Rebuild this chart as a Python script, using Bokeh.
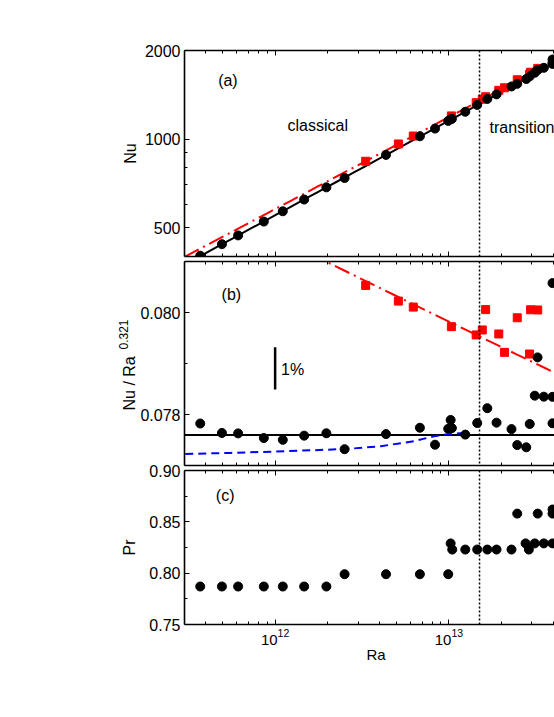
import numpy as np
from bokeh.plotting import figure
from bokeh.layouts import column
from bokeh.models import (Range1d, FixedTicker, LogAxis, Span, Label, Title,
                          CustomJSTickFormatter, NumeralTickFormatter)
from bokeh.embed import file_html
from bokeh.resources import INLINE

# ---------------- data ----------------
# black circles: Ra and Nu
ra_black = [3.707e11, 4.943e11, 6.124e11, 8.610e11, 1.107e12, 1.469e12, 1.972e12, 2.510e12,
            4.345e12, 6.808e12, 8.318e12, 9.908e12, 1.023e13, 1.040e13, 1.242e13, 1.455e13,
            1.663e13, 1.879e13, 2.291e13, 2.472e13, 2.786e13, 2.917e13, 3.119e13, 3.236e13,
            3.516e13, 3.945e13, 3.945e13, 3.945e13]
nu_black = [402.5, 440.4, 471.7, 525.6, 569.5, 624.3, 686.6, 738.9,
            884.6, 1023.4, 1086.7, 1154.1, 1168.6, 1172.4, 1239.1, 1307.5,
            1369.9, 1419.5, 1510.3, 1541.4, 1600.8, 1634.2, 1681.6, 1717.9,
            1747.1, 1812.8, 1800.8, 1864.4]
# red squares: Ra and Nu
ra_red = [3.319e12, 5.117e12, 6.237e12, 1.033e13, 1.435e13, 1.556e13, 1.626e13,
          1.936e13, 2.089e13, 2.472e13, 2.911e13, 2.951e13, 3.243e13]
nu_red = [841.8, 963.6, 1025.3, 1199.8, 1330.6, 1367.3, 1393.7,
          1465.2, 1494.6, 1591.1, 1661.9, 1687.5, 1739.3]
# panel (c): Prandtl number
ra_pr = [3.707e11, 4.943e11, 6.124e11, 8.610e11, 1.107e12, 1.469e12, 1.972e12,
         2.510e12, 4.345e12, 6.808e12, 9.908e12, 1.023e13, 1.045e13,
         1.242e13, 1.455e13, 1.663e13, 1.879e13, 2.291e13,
         2.472e13, 2.761e13, 2.884e13, 3.119e13, 3.243e13, 3.516e13,
         3.945e13, 3.945e13, 3.945e13]
pr = [0.787, 0.787, 0.787, 0.787, 0.787, 0.787, 0.787,
      0.799, 0.799, 0.799, 0.799, 0.829, 0.823,
      0.823, 0.823, 0.823, 0.823, 0.823,
      0.858, 0.829, 0.823, 0.829, 0.858, 0.829,
      0.829, 0.862, 0.858]
# blue dashed curve in panel (b)
ra_gl = [3.041e11, 5.559e11, 1.0e12, 1.675e12, 2.606e12, 4.046e12, 6.295e12,
         8.204e12, 1.023e13, 1.219e13]
comp_gl = [0.077227, 0.077247, 0.077274, 0.077300, 0.077325, 0.077378, 0.077476,
           0.077574, 0.077620, 0.077639]
# power-law fits Nu = A * Ra^b
fit_black = (0.0776, 0.321)
fit_red = (0.1045, 0.312)
comp_exp = 0.321
ra_transition = 1.5e13
scale_bar = (1e12, 0.07849, 0.07932)

x_ticks = [1e12, 1e13]
x_minor = [m * 10.0 ** e for e in (11, 12, 13) for m in range(2, 10)]

# ---------------- styling ----------------
FONT = "Liberation Sans"
X0, X1 = 3.01e11, 4.05e13
xr = Range1d(X0, X1)


def style_axis(ax, labels=True, size="16px"):
    ax.axis_line_width = 1.6
    ax.axis_line_color = "black"
    ax.major_tick_in = 5
    ax.major_tick_out = 0
    ax.minor_tick_in = 3
    ax.minor_tick_out = 0
    ax.major_tick_line_color = "black"
    ax.minor_tick_line_color = "black"
    ax.major_tick_line_width = 1
    ax.minor_tick_line_width = 1
    ax.major_label_text_font = FONT
    ax.major_label_text_font_size = size
    ax.major_label_text_color = "black"
    ax.major_label_standoff = 4
    ax.axis_label_text_font = FONT
    ax.axis_label_text_font_size = "16px"
    ax.axis_label_text_font_style = "normal"
    ax.axis_label_text_color = "black"
    if not labels:
        ax.formatter = CustomJSTickFormatter(code="return ''")
        ax.major_label_text_font_size = "0px"
        ax.major_label_standoff = 0


def make_panel(y_type, y_range, frame_h, top, bottom, y_ticks, y_minor, y_fmt, x_labels):
    p = figure(x_axis_type="log", y_axis_type=y_type, x_range=xr, y_range=y_range,
               frame_width=370, frame_height=frame_h,
               min_border_left=184, min_border_right=0,
               min_border_top=top, min_border_bottom=bottom,
               output_backend="svg", toolbar_location=None)
    p.outline_line_color = None
    p.xgrid.visible = False
    p.ygrid.visible = False
    p.border_fill_color = None
    p.background_fill_color = None
    xa = p.below[0]
    xa.ticker = FixedTicker(ticks=x_ticks, minor_ticks=x_minor)
    style_axis(xa, labels=x_labels, size="15px")
    top_ax = LogAxis(ticker=FixedTicker(ticks=x_ticks, minor_ticks=x_minor))
    style_axis(top_ax, labels=False)
    p.add_layout(top_ax, "above")
    ya = p.left[0]
    ya.ticker = FixedTicker(ticks=y_ticks, minor_ticks=y_minor)
    ya.formatter = y_fmt
    style_axis(ya)
    p.add_layout(Span(location=ra_transition, dimension="height", line_color="black",
                      line_width=1.5, line_dash="2 2"))
    return p


def text(p, x, y, s, size="16px", **kw):
    p.add_layout(Label(x=x, y=y, text=s, text_font=FONT, text_font_size=size,
                       text_color="black", text_align=kw.pop("align", "left"),
                       text_baseline=kw.pop("baseline", "middle"), **kw))


ra_black_a = np.array(ra_black)
nu_black_a = np.array(nu_black)
ra_red_a = np.array(ra_red)
nu_red_a = np.array(nu_red)
xs_fit = np.geomspace(X0, X1, 40)
red_fit = fit_red[0] * xs_fit ** fit_red[1]
black_fit = fit_black[0] * xs_fit ** fit_black[1]

# ---------------- panel (a) ----------------
pa = make_panel("log", Range1d(400, 2000), 206, 50, 2, [500, 1000, 2000],
                [600, 700, 800, 900], NumeralTickFormatter(format="0"), False)
pa.line(xs_fit, red_fit, line_color="red", line_width=2, line_dash="16 5 2 5")
pa.line(xs_fit, black_fit, line_color="black", line_width=2)
pa.scatter(ra_red, nu_red, marker="square", size=8, color="red")
pa.scatter(ra_black, nu_black, marker="circle", size=9, color="black")
text(pa, 4.70e11, 1582, "(a)")
text(pa, 1.178e12, 1113, "classical")
text(pa, 1.714e13, 1093, "transition")
pa.left[0].axis_label = "Nu"
pa.left[0].axis_label_standoff = 3

# ---------------- panel (b) ----------------
pb = make_panel("linear", Range1d(0.077, 0.081), 204, 3, 3, [0.078, 0.080],
                [0.077, 0.079, 0.081], NumeralTickFormatter(format="0.000"), False)
pb.line(xs_fit, red_fit / xs_fit ** comp_exp, line_color="red", line_width=2,
        line_dash="16 5 2 5")
pb.line(xs_fit, black_fit / xs_fit ** comp_exp, line_color="black", line_width=2)
pb.line(ra_gl, comp_gl, line_color="blue", line_width=2, line_dash="8 5")
pb.scatter(ra_red, nu_red_a / ra_red_a ** comp_exp, marker="square", size=8, color="red")
pb.scatter(ra_black, nu_black_a / ra_black_a ** comp_exp, marker="circle", size=9,
           color="black")
pb.segment(x0=[scale_bar[0]], y0=[scale_bar[1]], x1=[scale_bar[0]], y1=[scale_bar[2]],
           line_color="black", line_width=2.5)
text(pb, 4.92e11, 0.080353, "(b)")
text(pb, scale_bar[0], 0.078882, "1%", x_offset=6)
pb.add_layout(Title(text="Nu / Ra", align="left", offset=55, standoff=0,
                    text_font=FONT, text_font_size="16px", text_font_style="normal",
                    text_color="black"), "left")
pb.add_layout(Title(text="0.321", align="left", offset=116, standoff=-19,
                    text_font=FONT, text_font_size="12px", text_font_style="normal",
                    text_color="black"), "left")

# ---------------- panel (c) ----------------
pc = make_panel("linear", Range1d(0.75, 0.90), 154, 10, 45, [0.75, 0.80, 0.85, 0.90],
                [0.775, 0.825, 0.875], NumeralTickFormatter(format="0.00"), True)
pc.scatter(ra_pr, pr, marker="circle", size=9, color="black")
text(pc, 4.56e11, 0.8757, "(c)")
pc.left[0].axis_label = "Pr"
pc.left[0].axis_label_standoff = 8
xb = pc.below[0]
xb.major_label_standoff = 4
pc.add_layout(Title(text="Ra", align="left", offset=182, standoff=-7,
                    text_font=FONT, text_font_size="15px", text_font_style="normal",
                    text_color="black"), "below")
pc.margin = (-8, 0, 0, 0)

layout = column(pa, pb, pc)
open("out.html", "w").write(file_html(layout, INLINE))
